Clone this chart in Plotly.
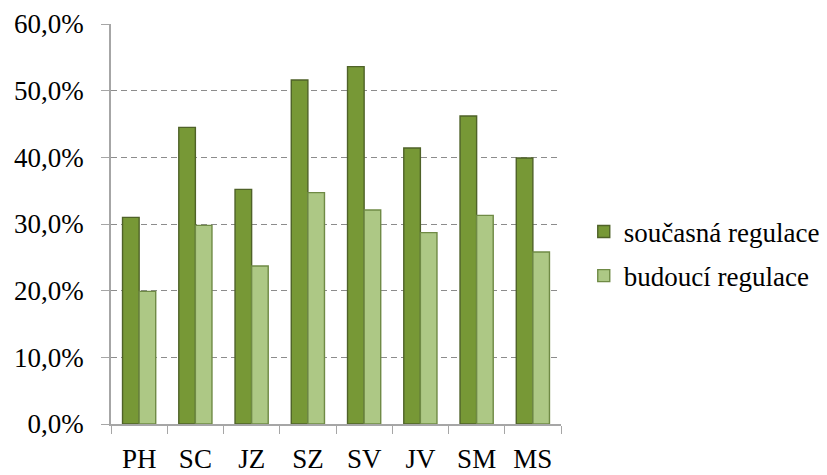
import plotly.graph_objects as go

categories = ["PH", "SC", "JZ", "SZ", "SV", "JV", "SM", "MS"]
soucasna = [0.310, 0.445, 0.352, 0.516, 0.536, 0.414, 0.462, 0.399]
budouci = [0.199, 0.298, 0.237, 0.347, 0.321, 0.287, 0.313, 0.258]
series_names = ["současná regulace", "budoucí regulace"]
ytick_vals = [0, 0.1, 0.2, 0.3, 0.4, 0.5, 0.6]

FONT = "Liberation Serif, Times New Roman, serif"

fig = go.Figure()
fig.add_trace(go.Bar(
    x=categories, y=soucasna, name=series_names[0], legendgroup="a",
    marker=dict(color="#779836", line=dict(color="#4F6228", width=1.4)),
))
fig.add_trace(go.Bar(
    x=categories, y=budouci, name=series_names[1], legendgroup="b",
    marker=dict(color="#ADC885", line=dict(color="#6F8A45", width=1.4)),
))

fig.update_layout(
    width=819, height=467,
    margin=dict(l=103, r=266, t=16, b=51, autoexpand=False),
    paper_bgcolor="white", plot_bgcolor="white",
    separators=", ",
    barmode="group", bargap=0.41, bargroupgap=0,
    font=dict(family=FONT, size=27, color="black"),
    showlegend=True,
    legend=dict(x=0.703, y=0.425, xref="container", xanchor="left", yanchor="middle",
                font=dict(family=FONT, size=27, color="black"),
                tracegroupgap=6, itemwidth=30, bgcolor="rgba(0,0,0,0)"),
)
fig.update_yaxes(
    range=[0, 0.6], tickvals=ytick_vals, tickformat=".1%",
    showgrid=True, gridcolor="#8C8C8C", griddash="6px,4px", gridwidth=1,
    showline=True, linecolor="#A6A6A6", linewidth=1.5,
    ticks="outside", ticklen=8, tickcolor="#A6A6A6",
    ticklabelstandoff=12, zeroline=False, automargin=False,
)
fig.update_xaxes(
    showline=True, linecolor="#A6A6A6", linewidth=1.5,
    ticks="outside", ticklen=8, tickcolor="#A6A6A6",
    tickson="boundaries", ticklabelstandoff=10,
    showgrid=False, automargin=False,
)

fig.write_html("out.html")
